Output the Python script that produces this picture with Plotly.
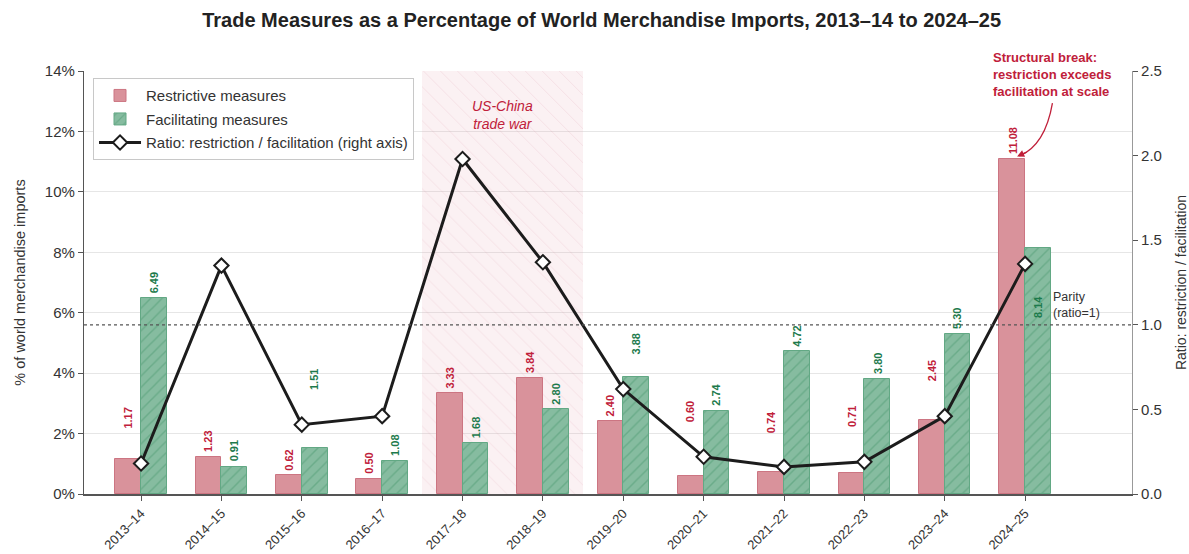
import plotly.graph_objects as go

# ---- data -------------------------------------------------------------
periods = ["2013–14", "2014–15", "2015–16", "2016–17", "2017–18", "2018–19",
           "2019–20", "2020–21", "2021–22", "2022–23", "2023–24", "2024–25"]
restrictive = [1.17, 1.23, 0.62, 0.50, 3.33, 3.84, 2.40, 0.60, 0.74, 0.71, 2.45, 11.08]
facilitating = [6.49, 0.91, 1.51, 1.08, 1.68, 2.80, 3.88, 2.74, 4.72, 3.80, 5.30, 8.14]
ratio = [0.18, 1.35, 0.41, 0.46, 1.98, 1.37, 0.62, 0.22, 0.16, 0.19, 0.46, 1.36]
pct_ticks = [0, 2, 4, 6, 8, 10, 12, 14]
ratio_ticks = [0.0, 0.5, 1.0, 1.5, 2.0, 2.5]

# ---- styling ----------------------------------------------------------
FONT = "Liberation Sans, Arial, sans-serif"
RED_TXT = "#c0203a"
GREEN_TXT = "#1d7a4c"
RED_FILL = "#d9929b"
RED_EDGE = "#cc7582"
GREEN_FILL = "#86bca0"
GREEN_HATCH = "#4e9a72"
GREEN_EDGE = "#62a884"
BAR_W = 0.32

# value labels moved off the bar top so they stay clear of the ratio line
label_pos_restrictive = {0: 2.09, 7: 2.32, 8: 1.95, 9: 2.15, 10: 3.68}
label_pos_facilitating = {2: 3.38, 6: 4.54, 11: 5.76}

idx = list(range(len(periods)))
x_r = [i - BAR_W / 2 for i in idx]
x_f = [i + BAR_W / 2 for i in idx]

fig = go.Figure()

# shaded band for the US-China trade war years (2017–18 and 2018–19)
fig.add_trace(go.Bar(
    x=[4.5], y=[14], width=[2.0], yaxis="y",
    marker=dict(color="rgba(232,160,172,0.14)", line=dict(width=0),
                pattern=dict(shape="\\", fgcolor="rgba(215,125,145,0.30)",
                             size=12, solidity=0.08)),
    showlegend=False, hoverinfo="skip"))

fig.add_trace(go.Bar(
    x=x_r, y=restrictive, width=BAR_W, name="Restrictive measures",
    legendgroup="r",
    marker=dict(color=RED_FILL, line=dict(color=RED_EDGE, width=1))))

fig.add_trace(go.Bar(
    x=x_f, y=facilitating, width=BAR_W, name="Facilitating measures",
    legendgroup="f",
    marker=dict(color=GREEN_FILL, line=dict(color=GREEN_EDGE, width=1),
                pattern=dict(shape="/", fgcolor=GREEN_HATCH, size=8,
                             solidity=0.18))))

fig.add_trace(go.Scatter(
    x=idx, y=ratio, yaxis="y2", mode="lines+markers",
    name="Ratio: restriction / facilitation (right axis)",
    legendgroup="q",
    line=dict(color="#1c1c1c", width=3),
    marker=dict(symbol="diamond", size=11, color="white",
                line=dict(color="#1c1c1c", width=2))))

annotations = []
for i in idx:
    for xs, vals, pos, col in ((x_r, restrictive, label_pos_restrictive, RED_TXT),
                               (x_f, facilitating, label_pos_facilitating, GREEN_TXT)):
        v = vals[i]
        y = pos.get(i, v)
        annotations.append(dict(
            x=xs[i], y=y, xref="x", yref="y", text=f"<b>{v:.2f}</b>",
            textangle=-90, showarrow=False, xanchor="center", yanchor="bottom",
            yshift=0 if i in pos else 3,
            font=dict(family=FONT, size=11, color=col)))

annotations.append(dict(
    x=4.5, y=12.55, xref="x", yref="y", text="<i>US-China<br>trade war</i>",
    showarrow=False, font=dict(family=FONT, size=14, color=RED_TXT),
    align="center"))

annotations.append(dict(
    x=11.32, y=1.117, xref="x", yref="y2", text="Parity<br>(ratio=1)",
    showarrow=False, xanchor="left", align="left",
    font=dict(family=FONT, size=12.5, color="#333333")))

annotations.append(dict(
    x=0.865, y=1.054, xref="paper", yref="paper",
    text="<b>Structural break:<br>restriction exceeds<br>facilitation at scale</b>",
    showarrow=False, xanchor="left", yanchor="top", align="left",
    font=dict(family=FONT, size=13, color=RED_TXT)))

# arrowhead at the top of the 2024–25 restrictive bar
annotations.append(dict(
    x=10.9, y=11.17, xref="x", yref="y", text="", showarrow=True,
    arrowhead=2, arrowsize=1.1, arrowwidth=1.3, arrowcolor=RED_TXT,
    ax=11, ay=-5, standoff=0))

shapes = [
    # parity reference line
    dict(type="line", xref="paper", x0=0, x1=1, yref="y2", y0=1, y1=1,
         line=dict(color="#555555", width=1.2, dash="dot"), layer="above"),
    # curved leader from the structural-break note
    dict(type="path", xref="x", yref="y",
         path="M 11.34,12.94 Q 11.25,11.55 10.93,11.19",
         line=dict(color=RED_TXT, width=1.3)),
]

fig.update_layout(
    width=1189, height=554,
    margin=dict(l=84, r=57, t=71, b=60),
    paper_bgcolor="white", plot_bgcolor="white",
    barmode="overlay", bargap=0,
    font=dict(family=FONT, color="#333333"),
    title=dict(text="<b>Trade Measures as a Percentage of World Merchandise Imports, 2013–14 to 2024–25</b>",
               x=0.506, xanchor="center", y=0.963, yanchor="middle",
               font=dict(family=FONT, size=20, color="#222222")),
    legend=dict(x=0.0086, y=0.983, xanchor="left", yanchor="top",
                bgcolor="white", bordercolor="#c8c8c8", borderwidth=1,
                font=dict(family=FONT, size=15, color="#333333"),
                traceorder="grouped", tracegroupgap=1, itemwidth=42),
    xaxis=dict(range=[-0.71, 12.33], tickmode="array", tickvals=idx,
               ticktext=periods, tickangle=-45, ticks="outside", ticklen=5,
               tickcolor="#555555", showgrid=False, zeroline=False,
               showline=True, linecolor="#555555", linewidth=1.5,
               automargin=False,
               tickfont=dict(family=FONT, size=13, color="#333333")),
    yaxis=dict(range=[0, 14], tickmode="array", tickvals=pct_ticks,
               ticktext=[f"{t}%" for t in pct_ticks],
               ticks="outside", ticklen=5, tickcolor="#555555",
               showgrid=True, gridcolor="#e6e6e6", gridwidth=1,
               zeroline=False, showline=True, linecolor="#555555", linewidth=1.2,
               automargin=False,
               title=dict(text="% of world merchandise imports", standoff=15,
                          font=dict(family=FONT, size=14.5, color="#333333")),
               tickfont=dict(family=FONT, size=15, color="#333333")),
    yaxis2=dict(range=[0, 2.5], tickmode="array", tickvals=ratio_ticks,
                ticktext=[f"{t:.1f}" for t in ratio_ticks],
                overlaying="y", side="right",
                ticks="outside", ticklen=5, tickcolor="#555555",
                showgrid=False, zeroline=False, showline=True,
                linecolor="#999999", linewidth=1.2, automargin=False,
                title=dict(text="Ratio: restriction / facilitation", standoff=16,
                           font=dict(family=FONT, size=14, color="#333333")),
                tickfont=dict(family=FONT, size=15, color="#333333")),
    annotations=annotations,
    shapes=shapes,
)

fig.write_html("out.html")
